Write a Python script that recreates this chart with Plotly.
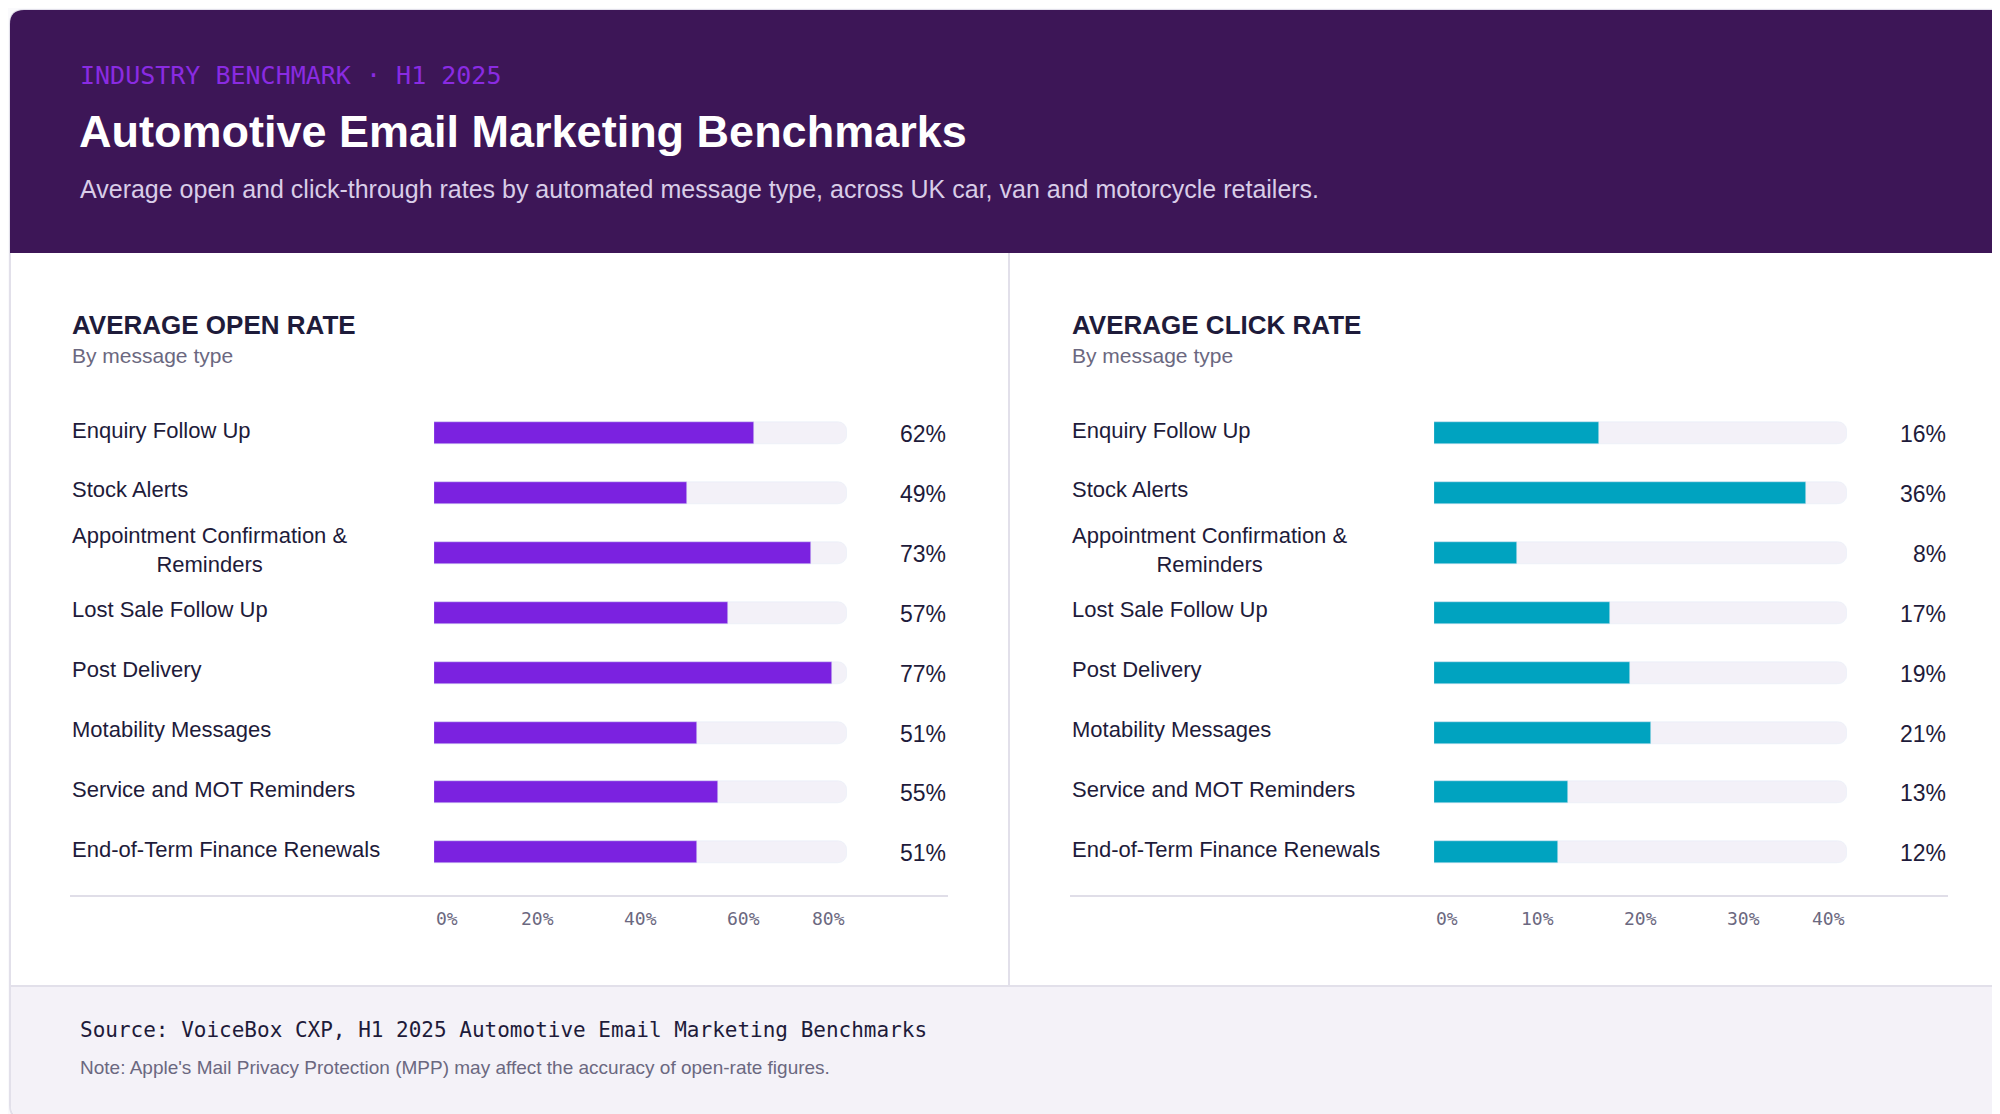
import plotly.graph_objects as go

W, H = 2000, 1114

message_types = [
    "Enquiry Follow Up",
    "Stock Alerts",
    "Appointment Confirmation &<br>Reminders",
    "Lost Sale Follow Up",
    "Post Delivery",
    "Motability Messages",
    "Service and MOT Reminders",
    "End-of-Term Finance Renewals",
]
open_rate = [62, 49, 73, 57, 77, 51, 55, 51]
click_rate = [16, 36, 8, 17, 19, 21, 13, 12]
open_ticks = [0, 20, 40, 60, 80]
click_ticks = [0, 10, 20, 30, 40]

dark = "#1e1b3a"
muted = "#6b6880"
track = "#f3f1f8"
sans = "Liberation Sans, Arial, sans-serif"
mono = "DejaVu Sans Mono, monospace"

row0, row_gap = 425, 59.9
rows = [row0 + i * row_gap for i in range(len(message_types))]

fig = go.Figure()
panels = [
    dict(ax="x", off=0, vals=open_rate, ticks=open_ticks, color="#7b22e0",
         title="AVERAGE OPEN RATE"),
    dict(ax="x2", off=784, vals=click_rate, ticks=click_ticks, color="#00a3c0",
         title="AVERAGE CLICK RATE"),
]

def px(x):
    return x / W

shapes = [
    # card
    dict(type="path", xref="paper", yref="y",
         path=f"M 12,2 L {W-12},2 Q {W-2},2 {W-2},12 L {W-2},{H-12} Q {W-2},{H-2} {W-12},{H-2} "
              f"L 12,{H-2} Q 2,{H-2} 2,{H-12} L 2,12 Q 2,2 12,2 Z".replace(",", " ", 0),
         line=dict(color="#e2e0ea", width=2), fillcolor="white", layer="below"),
]
# build card/header/footer paths in paper x via pixel fractions
def rect_path(x0, y0, x1, y1, r_top=0, r_bot=0):
    return (f"M {px(x0 + r_top)},{y0} L {px(x1 - r_top)},{y0} Q {px(x1)},{y0} {px(x1)},{y0 + r_top} "
            f"L {px(x1)},{y1 - r_bot} Q {px(x1)},{y1} {px(x1 - r_bot)},{y1} "
            f"L {px(x0 + r_bot)},{y1} Q {px(x0)},{y1} {px(x0)},{y1 - r_bot} "
            f"L {px(x0)},{y0 + r_top} Q {px(x0)},{y0} {px(x0 + r_top)},{y0} Z")

shapes = [
    dict(type="path", xref="paper", yref="y", path=rect_path(2, 2, W - 2, H - 3, 14, 14),
         line=dict(color="#e2e0ea", width=2), fillcolor="white", layer="below"),
    dict(type="path", xref="paper", yref="y", path=rect_path(2, 2, W - 2, 245, 14, 0),
         line=dict(width=0), fillcolor="#3d1657", layer="below"),
    dict(type="path", xref="paper", yref="y", path=rect_path(3, 978, W - 3, H - 4, 0, 13),
         line=dict(width=0), fillcolor="#f4f2f8", layer="below"),
    dict(type="line", xref="paper", yref="y", x0=px(2), x1=px(W - 2), y0=978, y1=978,
         line=dict(color="#e2e0ea", width=2), layer="below"),
    dict(type="line", xref="paper", yref="y", x0=px(1001), x1=px(1001), y0=245, y1=978,
         line=dict(color="#e2e0ea", width=2), layer="below"),
]

annotations = [
    dict(text="INDUSTRY BENCHMARK · H1 2025", x=px(70), y=67, font=dict(family=mono, size=25, color="#8a2be2")),
    dict(text="<b>Automotive Email Marketing Benchmarks</b>", x=px(69), y=123,
         font=dict(family=sans, size=45, color="white")),
    dict(text="Average open and click-through rates by automated message type, across UK car, van and motorcycle retailers.",
         x=px(70), y=181, font=dict(family=sans, size=25, color="#d9cde8")),
    dict(text="Source: VoiceBox CXP, H1 2025 Automotive Email Marketing Benchmarks", x=px(70), y=1022,
         font=dict(family=mono, size=21, color=dark)),
    dict(text="Note: Apple's Mail Privacy Protection (MPP) may affect the accuracy of open-rate figures.",
         x=px(70), y=1059, font=dict(family=sans, size=19, color=muted)),
]
for a in annotations:
    a.update(xref="paper", yref="y", xanchor="left", yanchor="middle", showarrow=False)

for i, p in enumerate(panels):
    o = p["off"] * 1.2755
    x_label = 62 + o
    x0, x1 = 426 + o, 839 + o
    x_val = 940 + o
    vmax = p["ticks"][-1]
    ax = p["ax"]
    fig.add_trace(go.Bar(x=[vmax] * len(rows), y=rows, orientation="h", width=22,
                         marker=dict(color=track, cornerradius=9), xaxis=ax, yaxis="y",
                         hoverinfo="skip", showlegend=False))
    fig.add_trace(go.Bar(x=p["vals"], y=rows, orientation="h", width=22,
                         marker=dict(color=p["color"], cornerradius=9), xaxis=ax, yaxis="y",
                         customdata=message_types, hovertemplate="%{customdata}: %{x}%<extra></extra>",
                         showlegend=False))
    key = "xaxis" if ax == "x" else "xaxis2"
    fig.layout[key] = dict(domain=[px(x0), px(x1)], range=[0, vmax], visible=False, fixedrange=True)

    new = [
        dict(text="<b>" + p["title"] + "</b>", x=px(x_label), y=317, font=dict(family=sans, size=26, color=dark)),
        dict(text="By message type", x=px(x_label), y=347, font=dict(family=sans, size=21, color=muted)),
    ]
    for lab, yv, v in zip(message_types, rows, p["vals"]):
        new.append(dict(text=lab, x=px(x_label), y=yv - 3, font=dict(family=sans, size=22, color=dark)))
        new.append(dict(text=f"{v}%", x=px(x_val), y=yv + 1, xanchor="right",
                        font=dict(family=sans, size=23, color=dark)))
    for j, t in enumerate(p["ticks"]):
        anchor = "left" if j == 0 else ("right" if j == len(p["ticks"]) - 1 else "center")
        new.append(dict(text=f"{t}%", x=t, xref=ax, y=910, xanchor=anchor,
                        font=dict(family=mono, size=18, color=muted)))
    for a in new:
        a.setdefault("xref", "paper")
        a.setdefault("xanchor", "left")
        a.update(yref="y", yanchor="middle", showarrow=False)
    annotations += new
    shapes.append(dict(type="line", xref="paper", yref="y", x0=px(x_label), x1=px(x_val),
                       y0=888, y1=888, line=dict(color="#e0dee8", width=2)))

fig.update_layout(
    width=W, height=H, margin=dict(l=0, r=0, t=0, b=0),
    paper_bgcolor="#fafafc", plot_bgcolor="rgba(0,0,0,0)",
    barmode="overlay", bargap=0,
    yaxis=dict(domain=[0, 1], range=[H, 0], visible=False, fixedrange=True),
    shapes=shapes, annotations=annotations,
)

fig.write_html("out.html", config=dict(displayModeBar=False))
